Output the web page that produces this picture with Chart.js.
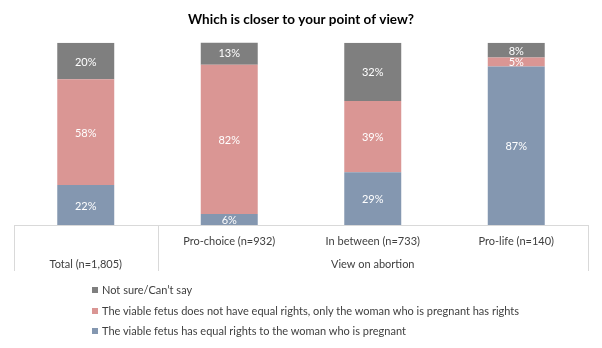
<!DOCTYPE html>
<html>
<head>
<meta charset="utf-8">
<script src="https://cdn.jsdelivr.net/npm/chart.js@4.4.1/dist/chart.umd.min.js"></script>
<style>
    html, body { margin: 0; padding: 0; background: #fff; }
    #wrap { position: relative; width: 602px; height: 348px; }
    #legend { position: absolute; left: 92px; top: 281px; font-family: Lato, sans-serif; font-size: 11px; color: #404040; }
    #legend div { height: 20.5px; line-height: 18px; white-space: nowrap; }
    #legend span.box { display: inline-block; width: 6px; height: 6px; margin-right: 4px; vertical-align: 1px; }
</style>
</head>
<body>
<div id="wrap">
    <canvas id="chart" width="602" height="348"></canvas>
    <div id="legend"></div>
</div>
<script>
// ---- data ----
const categories = ['Total (n=1,805)', 'Pro-choice (n=932)', 'In between (n=733)', 'Pro-life (n=140)'];
const groupLabel = 'View on abortion';
const seriesNames = [
    'The viable fetus has equal rights to the woman who is pregnant',
    'The viable fetus does not have equal rights, only the woman who is pregnant has rights',
    'Not sure/Can\u2019t say'
];
const equalRights = [22, 6, 29, 87];
const noEqualRights = [58, 82, 39, 5];
const notSure = [20, 13, 32, 8];

const colors = ['#8497b0', '#da9694', '#7f7f7f'];
const FONT = 'Lato, sans-serif';

// draws the table-like x axis under the bars
const axisTable = {
    id: 'axisTable',
    afterDraw(chart) {
        const ctx = chart.ctx;
        const x = chart.scales.x;
        const area = chart.chartArea;
        const step = x.getPixelForValue(1) - x.getPixelForValue(0);
        const bottom = area.bottom + 46;
        const split = x.getPixelForValue(0) + step / 2;

        ctx.save();
        ctx.strokeStyle = '#d9d9d9';
        ctx.lineWidth = 1;
        ctx.beginPath();
        ctx.moveTo(area.left, area.bottom + 0.5);
        ctx.lineTo(area.right, area.bottom + 0.5);
        [area.left, split, area.right].forEach(px => {
            const xx = Math.round(px) + 0.5;
            ctx.moveTo(xx, area.bottom);
            ctx.lineTo(xx, bottom);
        });
        ctx.stroke();

        ctx.fillStyle = '#404040';
        ctx.font = '11px ' + FONT;
        ctx.textAlign = 'center';
        ctx.textBaseline = 'middle';
        categories.forEach((c, i) => {
            const y = i === 0 ? area.bottom + 39 : area.bottom + 16;
            ctx.fillText(c, x.getPixelForValue(i), y);
        });
        const mid = (x.getPixelForValue(1) + x.getPixelForValue(categories.length - 1)) / 2;
        ctx.fillText(groupLabel, mid, area.bottom + 39);
        ctx.restore();
    }
};

// value labels inside the segments
const segLabels = {
    id: 'segLabels',
    afterDatasetsDraw(chart) {
        const ctx = chart.ctx;
        ctx.save();
        ctx.fillStyle = '#ffffff';
        ctx.font = '11px ' + FONT;
        ctx.textAlign = 'center';
        ctx.textBaseline = 'middle';
        chart.data.datasets.forEach((ds, di) => {
            chart.getDatasetMeta(di).data.forEach((bar, i) => {
                const p = bar.getProps(['x', 'y', 'base'], true);
                ctx.fillText(ds.data[i] + '%', p.x, (p.y + p.base) / 2 + 1);
            });
        });
        ctx.restore();
    }
};

const chart = new Chart(document.getElementById('chart'), {
    type: 'bar',
    data: {
        labels: categories,
        datasets: [
            { label: seriesNames[0], data: equalRights, backgroundColor: colors[0] },
            { label: seriesNames[1], data: noEqualRights, backgroundColor: colors[1] },
            { label: seriesNames[2], data: notSure, backgroundColor: colors[2] }
        ]
    },
    options: {
        responsive: false,
        animation: false,
        layout: { padding: { left: 14, right: 14, bottom: 123 } },
        datasets: { bar: { categoryPercentage: 1, barPercentage: 0.397 } },
        plugins: {
            legend: { display: false },
            tooltip: { enabled: false },
            title: {
                display: true,
                text: 'Which is closer to your point of view?',
                color: '#000',
                font: { family: FONT, size: 13.5, weight: 'bold', lineHeight: 1.2 },
                padding: { top: 12, bottom: 14.6 }
            }
        },
        scales: {
            x: { stacked: true, display: false },
            y: { stacked: true, display: false, min: 0, max: 100 }
        }
    },
    plugins: [axisTable, segLabels]
});

// legend, listed top segment first
const legendEl = document.getElementById('legend');
chart.data.datasets.slice().reverse().forEach(ds => {
    const row = document.createElement('div');
    row.innerHTML = '<span class="box" style="background:' + ds.backgroundColor + '"></span>' + ds.label;
    legendEl.appendChild(row);
});
</script>
</body>
</html>
